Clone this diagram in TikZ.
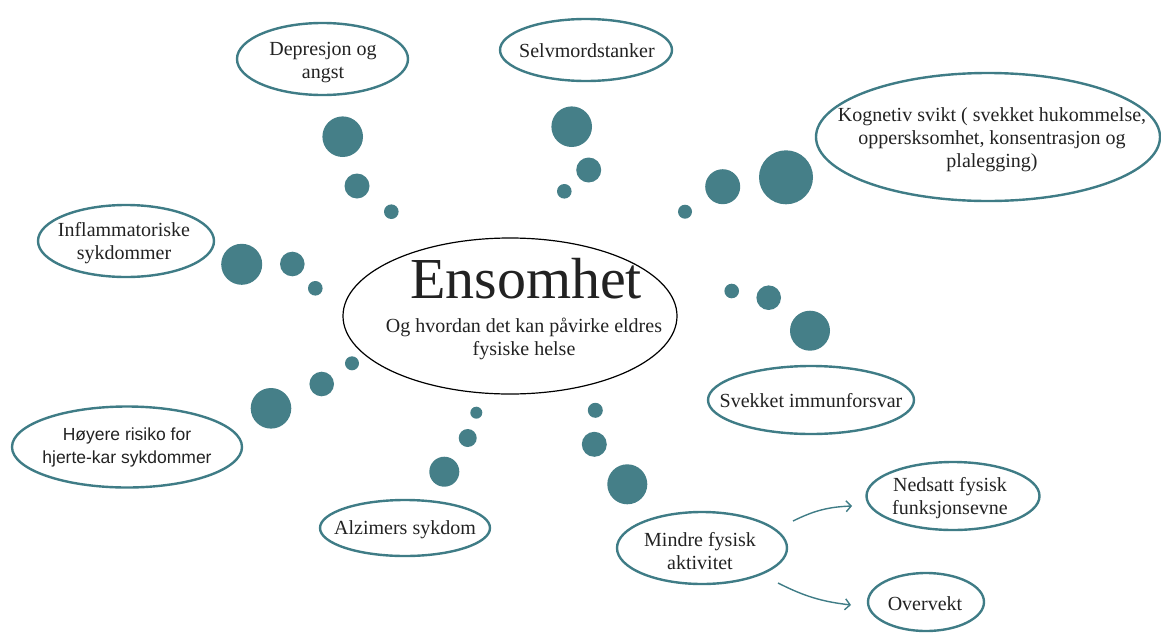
\documentclass[tikz,border=0pt]{standalone}
\usepackage{fontspec}
\setmainfont{Liberation Serif}
\newfontfamily\sansf{Liberation Sans}
\usetikzlibrary{shapes.geometric,arrows.meta}
\definecolor{tealc}{HTML}{3F7C86}
\definecolor{dotc}{HTML}{457F88}
\definecolor{ink}{HTML}{222222}
\tikzset{
  bub/.style={draw=tealc, line width=2.4pt, ellipse, inner sep=0pt},
  txt/.style={align=center, text=ink, inner sep=0pt, font=\fontsize{20}{23}\selectfont},
  dot/.style={circle, fill=dotc, inner sep=0pt, minimum size=#1},
  arr/.style={draw=tealc, line width=1.4pt, -{Straight Barb[length=5pt,width=11pt]}}
}
\begin{document}
\begin{tikzpicture}[x=1pt,y=-1pt]
\useasboundingbox (0,0) rectangle (1161,632);

% central ellipse
\node[draw=black, line width=1.2pt, ellipse, inner sep=0pt,
      minimum width=334pt, minimum height=156pt] (ens) at (510,316) {};
\node[anchor=base, text=ink, font=\fontsize{58}{60}\selectfont] (ensT) at (526,298) {Ensomhet};
\node[txt] (ensS) at (524,339) {Og hvordan det kan påvirke eldres\\fysiske helse};

% outer bubbles
\node[bub, minimum width=171pt, minimum height=72pt] (dep) at (322.5,59) {};
\node[txt] at (323,63) {Depresjon og\\angst};

\node[bub, minimum width=172pt, minimum height=62pt] (sel) at (586,50) {};
\node[txt] at (587,51) {Selvmordstanker};

\node[bub, minimum width=344pt, minimum height=128pt] (kog) at (988,137) {};
\node[txt] at (992,140) {Kognetiv svikt ( svekket hukommelse,\\oppersksomhet, konsentrasjon og\\plalegging)};

\node[bub, minimum width=176pt, minimum height=72pt] (inf) at (126,241) {};
\node[txt] at (124,243) {Inflammatoriske\\sykdommer};

\node[bub, minimum width=230pt, minimum height=81pt] (hoy) at (127,447) {};
\node[txt, font=\sansf\fontsize{17.5}{23}\selectfont] at (127,447) {Høyere risiko for\\hjerte-kar sykdommer};

\node[bub, minimum width=170pt, minimum height=56pt] (alz) at (405,528) {};
\node[txt] at (405,530) {Alzimers sykdom};

\node[bub, minimum width=206pt, minimum height=68pt] (imm) at (811,400) {};
\node[txt] at (811,401) {Svekket immunforsvar};

\node[bub, minimum width=170pt, minimum height=72pt] (mfa) at (702,548) {};
\node[txt] at (700,551) {Mindre fysisk\\aktivitet};

\node[bub, minimum width=173pt, minimum height=68pt] (ned) at (953,496) {};
\node[txt] at (950,498) {Nedsatt fysisk\\funksjonsevne};

\node[bub, minimum width=116pt, minimum height=58pt] (ovr) at (926,602) {};
\node[txt] at (925,604) {Overvekt};

% dots between the centre and each bubble
\node[dot=40.6pt] (d1a) at (342.7,136.7) {};
\node[dot=25pt]   (d1b) at (357,186) {};
\node[dot=14.6pt] (d1c) at (391.3,211.7) {};

\node[dot=40.6pt] (d2a) at (571.7,126.7) {};
\node[dot=25pt]   (d2b) at (588.7,170) {};
\node[dot=14.6pt] (d2c) at (564.3,191.3) {};

\node[dot=54pt]   (d3a) at (786,177.3) {};
\node[dot=35pt]   (d3b) at (722.7,186.7) {};
\node[dot=14pt]   (d3c) at (685,211.7) {};

\node[dot=41pt]   (d4a) at (241.7,264.3) {};
\node[dot=24.6pt] (d4b) at (292.3,264) {};
\node[dot=14.6pt] (d4c) at (315.3,288.3) {};

\node[dot=40.6pt] (d5a) at (271,408.3) {};
\node[dot=24.6pt] (d5b) at (321.7,384) {};
\node[dot=14pt]   (d5c) at (352,363.3) {};

\node[dot=30pt]   (d6a) at (444.3,471.7) {};
\node[dot=18pt]   (d6b) at (467.7,438) {};
\node[dot=12pt]   (d6c) at (476.3,412.7) {};

\node[dot=40pt]   (d7a) at (627.3,484.3) {};
\node[dot=25pt]   (d7b) at (594.3,444.3) {};
\node[dot=15pt]   (d7c) at (595.3,410.3) {};

\node[dot=40pt]   (d8a) at (810,330.7) {};
\node[dot=24.6pt] (d8b) at (768.7,297.7) {};
\node[dot=14.6pt] (d8c) at (731.7,291) {};

% arrows out of "Mindre fysisk aktivitet"
\coordinate (a1s) at (793,521);
\coordinate (a1e) at (852,506);
\coordinate (a2s) at (778,583);
\coordinate (a2e) at (851,605);
\draw[arr] (a1s) to[bend left=12] (a1e);
\draw[arr] (a2s) to[bend right=10] (a2e);
\end{tikzpicture}
\end{document}
